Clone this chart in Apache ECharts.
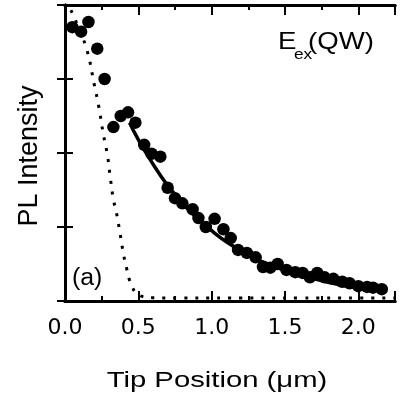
<!DOCTYPE html>
<html>
<head>
<meta charset="utf-8">
<script src="https://cdn.jsdelivr.net/npm/echarts@6/dist/echarts.min.js"></script>
<style>
  html, body { margin: 0; padding: 0; background: #fff; }
  #chart { width: 401px; height: 411px; }
</style>
</head>
<body>
<div id="chart"></div>
<script>
// measured points (tip position in um, PL intensity arb.)
var tipPos = [0.05, 0.11, 0.16, 0.22, 0.27, 0.33, 0.38, 0.43, 0.48, 0.54,
              0.59, 0.65, 0.70, 0.75, 0.80, 0.87, 0.91, 0.96, 1.02, 1.08,
              1.13, 1.18, 1.24, 1.30, 1.35, 1.40, 1.45, 1.51, 1.57, 1.62,
              1.67, 1.72, 1.77, 1.83, 1.89, 1.94, 2.00, 2.06, 2.10, 2.16];
var plInt = [3.70, 3.64, 3.77, 3.41, 3.00, 2.35, 2.50, 2.55, 2.41, 2.11,
             1.99, 1.95, 1.53, 1.39, 1.32, 1.24, 1.12, 1.00, 1.11, 0.97,
             0.85, 0.69, 0.65, 0.59, 0.46, 0.45, 0.50, 0.42, 0.39, 0.38,
             0.32, 0.38, 0.32, 0.30, 0.26, 0.24, 0.20, 0.19, 0.18, 0.16];

// solid fit curve
var fitX = [0.44, 0.50, 0.55, 0.60, 0.65, 0.70, 0.75, 0.80, 0.85, 0.90, 1.00, 1.10,
            1.20, 1.30, 1.40, 1.50, 1.60, 1.70, 1.80, 1.90, 2.00, 2.10, 2.16];
var fitY = [2.41, 2.18, 2.01, 1.85, 1.70, 1.56, 1.44, 1.32, 1.22, 1.12, 0.95, 0.80,
            0.68, 0.57, 0.49, 0.41, 0.35, 0.30, 0.25, 0.21, 0.18, 0.15, 0.14];

// dotted curve
var dotX = [0.04, 0.06, 0.10, 0.15, 0.20, 0.23, 0.26, 0.29, 0.31, 0.33, 0.35, 0.375,
            0.40, 0.42, 0.44, 0.46, 0.49, 0.53, 0.60, 0.80, 1.20, 1.60, 2.00, 2.25];
var dotY = [3.93, 3.85, 3.65, 3.39, 2.92, 2.63, 2.27, 1.96, 1.65, 1.37, 1.20, 0.92,
            0.62, 0.44, 0.28, 0.18, 0.10, 0.06, 0.045, 0.04, 0.04, 0.04, 0.04, 0.04];

var xTicks = [0, 0.5, 1.0, 1.5, 2.0];

function pairs(xs, ys) {
  return xs.map(function (x, i) { return [x, ys[i]]; });
}

var FONT = "'Liberation Sans', Arial, sans-serif";
var black = '#000';

function xAx(pos, interval, len, labels) {
  return {
    type: 'value', position: pos, min: 0, max: 2.25, interval: interval,
    axisLine: { show: true, onZero: false, lineStyle: { color: black, width: 3 } },
    axisTick: { show: true, inside: true, length: len, lineStyle: { color: black, width: 2 } },
    axisLabel: {
      show: labels, margin: 16, color: black, fontSize: 22, fontFamily: "'DejaVu Sans', sans-serif",
      formatter: function (v) { return xTicks.indexOf(v) >= 0 ? v.toFixed(1) : ''; }
    },
    splitLine: { show: false }
  };
}

function yAx(pos) {
  return {
    type: 'value', position: pos, min: 0, max: 4, interval: 1,
    axisLine: { show: true, lineStyle: { color: black, width: 3 } },
    axisTick: { show: true, inside: true, length: 8, lineStyle: { color: black, width: 2 } },
    axisLabel: { show: false },
    splitLine: { show: false }
  };
}

// text with top-left anchor, optionally stretched
function txt(str, x, y, size, sx) {
  return {
    type: 'text', x: x, y: y, scaleX: sx || 1,
    style: { text: str, font: size + 'px ' + FONT, fill: black, align: 'left', verticalAlign: 'top' }
  };
}

var chart = echarts.init(document.getElementById('chart'));
var option = {
  backgroundColor: '#fff',
  animation: false,
  grid: { left: 65, right: 6, top: 5, bottom: 110 },
  xAxis: [
    xAx('bottom', 0.5, 10, true),
    xAx('bottom', 0.25, 5, false),
    xAx('top', 0.5, 10, false),
    xAx('top', 0.25, 5, false)
  ],
  yAxis: [yAx('left'), yAx('right')],
  graphic: [
    txt('E', 278, 30, 24, 1.15),
    txt('ex', 294, 47, 15, 1.15),
    txt('(QW)', 308, 30, 24, 1.15),
    txt('(a)', 72, 267, 23, 1.08),
    {
      type: 'text', x: 217, y: 370, scaleX: 1.33,
      style: { text: 'Tip Position (\u03bcm)', font: '22px ' + FONT, fill: black, align: 'center', verticalAlign: 'top' }
    },
    {
      type: 'text', x: 29.5, y: 156, rotation: Math.PI / 2,
      style: { text: 'PL Intensity', font: '27px ' + FONT, fill: black, align: 'center', verticalAlign: 'middle' }
    }
  ],
  series: [
    {
      type: 'line', data: pairs(dotX, dotY), showSymbol: false, smooth: true,
      lineStyle: { color: black, width: 3, type: [3, 8] }, z: 2
    },
    {
      type: 'line', data: pairs(fitX, fitY), showSymbol: false, smooth: true,
      lineStyle: { color: black, width: 3.5 }, z: 3
    },
    {
      type: 'scatter', data: pairs(tipPos, plInt), symbol: 'circle', symbolSize: 12.5,
      itemStyle: { color: black, opacity: 1 }, z: 4
    }
  ]
};
chart.setOption(option);
</script>
</body>
</html>
